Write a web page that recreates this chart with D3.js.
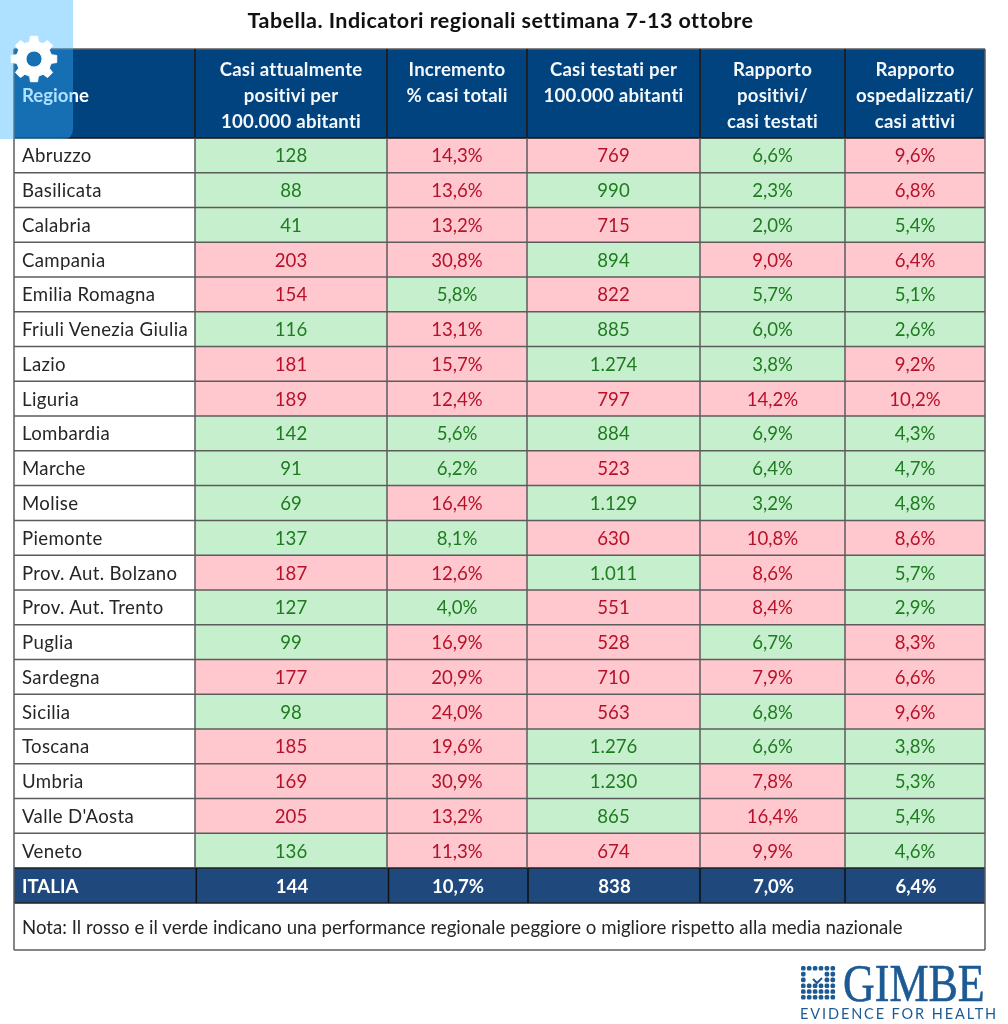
<!DOCTYPE html>
<html><head><meta charset="utf-8">
<script src="https://cdn.jsdelivr.net/npm/d3@7"></script>
<style>html,body{margin:0;padding:0;background:#fff;overflow:hidden}svg{display:block;filter:blur(0.35px)}text{font-family:Lato,"Open Sans",sans-serif}</style>
</head><body><svg id="c" width="1008" height="1024"></svg>
<script>
const title = "Tabella. Indicatori regionali settimana 7-13 ottobre";
const regions = ["Abruzzo","Basilicata","Calabria","Campania","Emilia Romagna","Friuli Venezia Giulia","Lazio","Liguria","Lombardia","Marche","Molise","Piemonte","Prov. Aut. Bolzano","Prov. Aut. Trento","Puglia","Sardegna","Sicilia","Toscana","Umbria","Valle D'Aosta","Veneto"];
const positivi = [128,88,41,203,154,116,181,189,142,91,69,137,187,127,99,177,98,185,169,205,136];
const incremento = [14.3,13.6,13.2,30.8,5.8,13.1,15.7,12.4,5.6,6.2,16.4,8.1,12.6,4.0,16.9,20.9,24.0,19.6,30.9,13.2,11.3];
const testati = [769,990,715,894,822,885,1274,797,884,523,1129,630,1011,551,528,710,563,1276,1230,865,674];
const rapportoPositivi = [6.6,2.3,2.0,9.0,5.7,6.0,3.8,14.2,6.9,6.4,3.2,10.8,8.6,8.4,6.7,7.9,6.8,6.6,7.8,16.4,9.9];
const rapportoOsp = [9.6,6.8,5.4,6.4,5.1,2.6,9.2,10.2,4.3,4.7,4.8,8.6,5.7,2.9,8.3,6.6,9.6,3.8,5.3,5.4,4.6];
const italia = [144,10.7,838,7.0,6.4];
const headers = [["Casi attualmente","positivi per","100.000 abitanti"],["Incremento","% casi totali"],["Casi testati per","100.000 abitanti"],["Rapporto","positivi/","casi testati"],["Rapporto","ospedalizzati/","casi attivi"]];
const higherIsBetter = [false,false,true,false,false];
const isPercent = [false,true,false,true,true];
const note = "Nota: Il rosso e il verde indicano una performance regionale peggiore o migliore rispetto alla media nazionale";
const columns = [positivi,incremento,testati,rapportoPositivi,rapportoOsp];

const L = {x0:14,x1:985,edges:[195,387,527,700,845,985],itaEdges:[196.3,388.5,528,700,845],top:49,head:138,rowsEnd:868,itaEnd:903,noteEnd:950};
const it = d3.formatLocale({decimal:",",thousands:".",grouping:[3],currency:["€",""]});
const fmtN = it.format(",d"), fmtP = it.format(".1f");
const fmt = (v,c)=> isPercent[c] ? fmtP(v)+"%" : fmtN(v);
const good = (v,c)=> higherIsBetter[c] ? v>italia[c] : v<italia[c];
const navy="#00437f", navy2="#1f497d", line="#5c5c5c";
const fs=18.6;

const svg=d3.select("#c");
const y=d3.scaleBand().domain(regions).range([L.head,L.rowsEnd]);
const x=d3.scaleOrdinal().domain([0,1,2,3,4]).range(L.edges.slice(0,5));
const w=c=>L.edges[c+1]-L.edges[c];

svg.append("text").attr("x",500.5).attr("y",28).attr("text-anchor","middle").attr("font-size",21.5).attr("font-weight",700).attr("letter-spacing",.45).attr("fill","#111").text(title);

// header
svg.append("rect").attr("x",L.x0).attr("y",L.top).attr("width",L.x1-L.x0).attr("height",L.head-L.top).attr("fill",navy);
svg.append("text").attr("x",22).attr("y",101.5).attr("font-size",fs).attr("font-weight",700).attr("fill","#fff").text("Regione");
headers.forEach((h,c)=>{
  h.forEach((t,i)=>svg.append("text").attr("x",x(c)+w(c)/2).attr("y",75.5+i*26)
    .attr("text-anchor","middle").attr("font-size",fs).attr("font-weight",700).attr("letter-spacing",.2).attr("fill","#f4f8fb").text(t));
});

// body
const rows=svg.append("g").selectAll("g").data(regions).join("g");
rows.append("text").attr("x",22).attr("y",d=>y(d)+y.bandwidth()/2+7).attr("font-size",fs).attr("letter-spacing",.35).attr("fill","#262626").text(d=>d);
columns.forEach((vals,c)=>{
  const g=svg.append("g");
  g.selectAll("rect").data(vals).join("rect").attr("x",x(c)).attr("y",(d,i)=>y(regions[i])).attr("width",w(c)).attr("height",y.bandwidth())
    .attr("fill",d=>good(d,c)?"#c6efce":"#ffc7ce");
  g.selectAll("text").data(vals).join("text").attr("x",x(c)+w(c)/2).attr("y",(d,i)=>y(regions[i])+y.bandwidth()/2+7)
    .attr("text-anchor","middle").attr("font-size",fs).attr("fill",d=>good(d,c)?"#1e7b1e":"#b5122a").text(d=>fmt(d,c));
});

// Italia row
svg.append("rect").attr("x",L.x0).attr("y",L.rowsEnd).attr("width",L.x1-L.x0).attr("height",L.itaEnd-L.rowsEnd).attr("fill",navy2);
svg.append("text").attr("x",22).attr("y",L.rowsEnd+24.5).attr("font-size",fs).attr("font-weight",700).attr("fill","#fff").text("ITALIA");
italia.forEach((v,c)=>svg.append("text").attr("x",x(c)+w(c)/2+1).attr("y",L.rowsEnd+24.5).attr("text-anchor","middle").attr("font-size",fs).attr("font-weight",700).attr("fill","#fff").text(fmt(v,c)));
svg.append("text").attr("x",22).attr("y",933.5).attr("font-size",fs).attr("letter-spacing",.02).attr("fill","#262626").text(note);

// grid lines
const gl=svg.append("g").attr("stroke",line).attr("stroke-width",1.5);
y.domain().slice(0,-1).forEach(d=>gl.append("line").attr("x1",L.x0).attr("x2",L.x1).attr("y1",y(d)+y.bandwidth()).attr("y2",y(d)+y.bandwidth()));
gl.append("line").attr("x1",L.x0).attr("x2",L.x1).attr("y1",L.head).attr("y2",L.head).attr("stroke","#111");
gl.append("line").attr("x1",L.x0).attr("x2",L.x1).attr("y1",L.top).attr("y2",L.top);
[L.rowsEnd,L.itaEnd].forEach(v=>gl.append("line").attr("x1",L.x0).attr("x2",L.x1).attr("y1",v).attr("y2",v).attr("stroke","#222"));
L.edges.slice(0,5).forEach(v=>gl.append("line").attr("x1",v).attr("x2",v).attr("y1",L.top).attr("y2",L.rowsEnd));
L.edges.slice(0,5).forEach(v=>gl.append("line").attr("x1",v).attr("x2",v).attr("y1",L.top).attr("y2",L.head).attr("stroke","#111"));
L.itaEdges.forEach(v=>gl.append("line").attr("x1",v).attr("x2",v).attr("y1",L.rowsEnd).attr("y2",L.itaEnd).attr("stroke","#111"));
[L.x0,L.x1].forEach(v=>gl.append("line").attr("x1",v).attr("x2",v).attr("y1",L.top).attr("y2",L.noteEnd));
gl.append("line").attr("x1",L.x0).attr("x2",L.x1).attr("y1",L.noteEnd).attr("y2",L.noteEnd);

// logo
const logo=svg.append("g").attr("fill","#1c5a94");
const dots=d3.range(6);
dots.forEach(r=>dots.forEach(k=>{ if(!(r>=1&&r<=2&&k>=1&&k<=3)) logo.append("rect").attr("x",801+k*5.9).attr("y",966+r*5.8).attr("width",4.6).attr("height",4.6).attr("rx",1.6);}));
logo.append("path").attr("d","M813 979l4 4 5-5").attr("fill","none").attr("stroke","#1c5a94").attr("stroke-width",2);
logo.append("text").attr("transform","translate(843,1001) scale(1,1.2)").attr("font-size",44).style("font-family","'Liberation Serif',serif").attr("stroke","#1c5a94").attr("stroke-width",.5).text("GIMBE");
logo.append("text").attr("x",800).attr("y",1019).attr("font-size",14.5).attr("letter-spacing",1.9).text("EVIDENCE FOR HEALTH");

// overlay + gear
svg.append("path").attr("d","M0 0H73V129Q73 139 63 139H0Z").attr("fill","rgba(52,178,255,0.4)");
const gearOuter=d3.range(8).flatMap(i=>{const a=i*Math.PI/4-Math.PI/2,s=0.24;return [[a-s,23],[a-s*0.65,23],[a+s*0.65,23],[a+s,23],[a+Math.PI/8,17.5]].map(([t,r],j)=>[t,(j==0||j==3)?18:r]);});
const gearPath=d3.line().x(d=>34+d[1]*Math.cos(d[0])).y(d=>59+d[1]*Math.sin(d[0]))(gearOuter)+"Z";
svg.append("path").attr("d",gearPath+"M34 51a8 8 0 1 0 .01 0Z").attr("fill","#fff").attr("fill-rule","evenodd").attr("stroke","#fff").attr("stroke-width",1).attr("stroke-linejoin","round");
</script></body></html>
